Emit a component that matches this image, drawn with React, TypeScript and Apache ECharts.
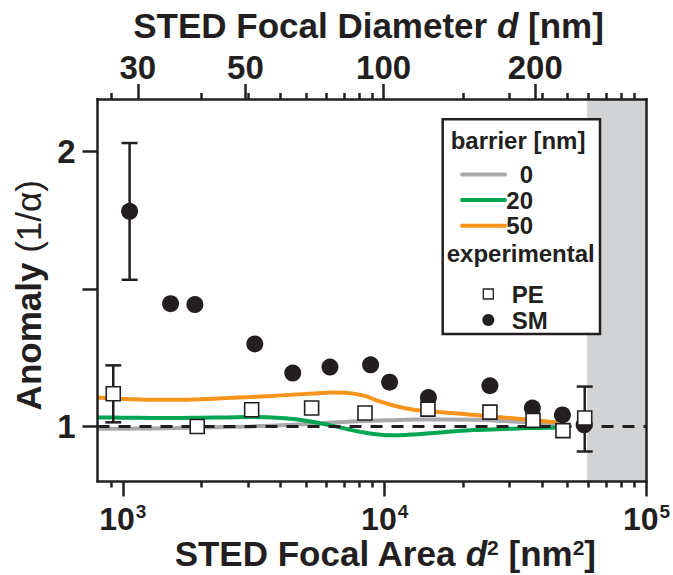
import React, { useEffect, useRef } from 'react';
import * as echarts from 'echarts';

const INK = '#231f20';
const FONT = '"Liberation Sans", Arial, Helvetica, sans-serif';

// Axis ranges
const areaRange = [800, 100000];
const anomalyRange = [0.8, 2.19];

// Bottom axis (focal area, log scale)
const areaMajorTicks = [1000, 10000, 100000];
const areaMinorTicks = [
  900, 2000, 3000, 4000, 5000, 6000, 7000, 8000, 9000,
  20000, 30000, 40000, 50000, 60000, 70000, 80000, 90000,
];

// Top axis (focal diameter) labels and where they sit on the area scale
const diameterLabels = ['30', '50', '100', '200'];
const diameterTickAreas = [1141, 2938, 9908, 37580];

// Left axis
const anomalyTicks = [1, 1.5, 2];
const anomalyLabels = [1, 2];

// Shaded region (beyond resolvable focal sizes) and free-diffusion baseline
const shadedFrom = 59300;
const baseline = 1;

// Simulated curves for different barrier sizes
const barrierNames = ['0', '20', '50'];
const barrierColors = ['#a7a9ac', '#00a651', '#f7941d'];
const curveArea = [
  800, 1000, 1276, 1600, 1982, 2500, 3080, 3700, 4376, 5358, 6200, 7223, 8321,
  9650, 10550, 12000, 12905, 14700, 17410, 22000, 27050, 31000, 36000, 41950, 45800,
];
const barrier0 = [
  0.992, 0.992, 0.993, 0.994, 0.996, 0.998, 1.0, 1.003, 1.006, 1.01, 1.014, 1.017, 1.02,
  1.022, 1.023, 1.024, 1.025, 1.025, 1.025, 1.024, 1.021, 1.018, 1.014, 1.009, 1.005,
];
const barrier20 = [
  1.033, 1.032, 1.031, 1.031, 1.032, 1.033, 1.034, 1.033, 1.028, 1.016, 1.004, 0.99, 0.978,
  0.97, 0.968, 0.969, 0.971, 0.975, 0.981, 0.987, 0.99, 0.992, 0.994, 0.995, 0.996,
];
const barrier50 = [
  1.105, 1.1, 1.097, 1.097, 1.099, 1.103, 1.107, 1.111, 1.115, 1.12, 1.123, 1.122, 1.112,
  1.09, 1.079, 1.066, 1.061, 1.056, 1.05, 1.042, 1.034, 1.03, 1.024, 1.018, 1.015,
];
const barrierCurves = [barrier0, barrier20, barrier50];

// Experimental data
const smArea = [1061, 1521, 1884, 3191, 4455, 6180, 8834, 10440, 14690, 25230, 36640, 47740, 57800];
const smAnomaly = [1.782, 1.446, 1.443, 1.3, 1.194, 1.216, 1.224, 1.161, 1.105, 1.148, 1.067, 1.042, 1.006];
const peArea = [919, 1923, 3104, 5260, 8410, 14630, 25230, 36870, 47970, 58080];
const peAnomaly = [1.119, 1.0, 1.061, 1.067, 1.049, 1.063, 1.052, 1.022, 0.985, 1.031];

// Error bars
const errArea = [1061, 919, 58080];
const errLow = [1.533, 1.015, 0.909];
const errHigh = [2.03, 1.222, 1.145];

const nearestIndex = (arr: number[], v: number) => {
  let best = 0;
  let bestD = Infinity;
  arr.forEach((a, i) => {
    const d = Math.abs(Math.log10(a) - Math.log10(v));
    if (d < bestD) {
      bestD = d;
      best = i;
    }
  });
  return best;
};

const zip = (xs: number[], ys: number[]) => xs.map((x, i) => [x, ys[i]]);

export default function App() {
  const ref = useRef<HTMLDivElement>(null);

  useEffect(() => {
    if (!ref.current) return;
    const chart = echarts.init(ref.current, null, { renderer: 'svg' });

    const axisLineStyle = { color: INK, width: 2.5 };
    const tickText = { color: INK, fontFamily: FONT, fontWeight: 'bold' as const, fontSize: 33 };
    const nameText = { ...tickText, fontSize: 35 };
    const legendFont = `bold 24px ${FONT}`;
    const LZ = 100;

    const baseX = {
      type: 'log' as const,
      logBase: 10,
      min: areaRange[0],
      max: areaRange[1],
      gridIndex: 0,
      z: 10,
      splitLine: { show: false },
      minorTick: { show: false },
    };

    // Legend placement
    const lgX = 442.7;
    const lgY = 119.3;
    const lgW = 157.3;
    const lgH = 214.7;
    const legendChildren: any[] = [
      {
        type: 'rect',
        z: LZ,
        shape: { x: lgX, y: lgY, width: lgW, height: lgH },
        style: { fill: '#fff', stroke: INK, lineWidth: 2.5 },
      },
      {
        type: 'text',
        z: LZ + 1,
        x: lgX + 8,
        y: 140,
        style: { text: 'barrier [nm]', fill: INK, font: legendFont, verticalAlign: 'middle' },
      },
    ];
    barrierNames.forEach((name, i) => {
      const y = 174.5 + 25.6 * i;
      legendChildren.push({
        type: 'line',
        z: LZ + 1,
        shape: { x1: 462, y1: y, x2: 505, y2: y },
        style: { stroke: barrierColors[i], lineWidth: 4, lineCap: 'round' },
      });
      legendChildren.push({
        type: 'text',
        z: LZ + 1,
        x: 533,
        y,
        style: { text: name, fill: INK, font: legendFont, align: 'right', verticalAlign: 'middle' },
      });
    });
    legendChildren.push({
      type: 'text',
      z: LZ + 1,
      x: lgX + 4,
      y: 253,
      style: { text: 'experimental', fill: INK, font: legendFont, verticalAlign: 'middle' },
    });
    legendChildren.push({
      type: 'rect',
      z: LZ + 1,
      shape: { x: 488.3 - 5, y: 294 - 5, width: 10, height: 10 },
      style: { fill: '#fff', stroke: INK, lineWidth: 1.3 },
    });
    legendChildren.push({
      type: 'text',
      z: LZ + 1,
      x: 511.7,
      y: 294,
      style: { text: 'PE', fill: INK, font: legendFont, verticalAlign: 'middle' },
    });
    legendChildren.push({
      type: 'circle',
      z: LZ + 1,
      shape: { cx: 488.3, cy: 320, r: 6 },
      style: { fill: INK },
    });
    legendChildren.push({
      type: 'text',
      z: LZ + 1,
      x: 511.7,
      y: 320,
      style: { text: 'SM', fill: INK, font: legendFont, verticalAlign: 'middle' },
    });

    const option: any = {
      animation: false,
      backgroundColor: '#ffffff',
      textStyle: { fontFamily: FONT, color: INK },
      grid: {
        left: 97.5,
        top: 99,
        right: 26.5,
        bottom: 93.5,
        containLabel: false,
        outerBoundsMode: 'none',
      },
      xAxis: [
        {
          ...baseX,
          position: 'bottom',
          axisLine: { show: true, onZero: false, lineStyle: axisLineStyle },
          axisTick: { show: true, inside: false, length: 15, lineStyle: axisLineStyle, customValues: areaMajorTicks },
          axisLabel: {
            show: true,
            margin: 22,
            customValues: areaMajorTicks,
            formatter: (v: number) => `{b|10}{s|${Math.round(Math.log10(v))}}`,
            rich: {
              b: { ...tickText, fontSize: 32, lineHeight: 30 },
              s: { ...tickText, fontSize: 19, lineHeight: 16, padding: [0, 0, 14, 1] },
            },
          },
          name: '{b|STED Focal Area }{i|d}{s|2}{b| [nm}{s|2}{b|]}',
          nameLocation: 'middle',
          nameGap: 57,
          nameMoveOverlap: false,
          nameTextStyle: {
            padding: [0, 0, 0, 26],
            rich: {
              b: { ...nameText, lineHeight: 30 },
              i: { ...nameText, fontStyle: 'italic', lineHeight: 30 },
              s: { ...nameText, fontSize: 21, lineHeight: 17, padding: [0, 0, 13, 0] },
            },
          },
        },
        {
          ...baseX,
          position: 'bottom',
          axisLine: { show: false, onZero: false },
          axisTick: { show: true, inside: false, length: 6, lineStyle: axisLineStyle, customValues: areaMinorTicks },
          axisLabel: { show: false },
        },
        {
          ...baseX,
          position: 'top',
          axisLine: { show: true, onZero: false, lineStyle: axisLineStyle },
          axisTick: { show: true, inside: false, length: 15, lineStyle: axisLineStyle, customValues: diameterTickAreas },
          axisLabel: {
            show: true,
            margin: 15,
            customValues: diameterTickAreas,
            formatter: (v: number) => diameterLabels[nearestIndex(diameterTickAreas, v)],
            ...tickText,
          },
          name: '{b|STED Focal Diameter }{i|d}{b| [nm]}',
          nameLocation: 'middle',
          nameGap: 56,
          nameMoveOverlap: false,
          nameTextStyle: {
            padding: [0, 7, 0, 0],
            rich: {
              b: { ...nameText },
              i: { ...nameText, fontStyle: 'italic' },
            },
          },
        },
        {
          ...baseX,
          position: 'top',
          axisLine: { show: false, onZero: false },
          axisTick: { show: true, inside: false, length: 6, lineStyle: axisLineStyle, customValues: areaMinorTicks },
          axisLabel: { show: false },
        },
      ],
      yAxis: [
        {
          type: 'value',
          min: anomalyRange[0],
          max: anomalyRange[1],
          position: 'left',
          z: 10,
          splitLine: { show: false },
          axisLine: { show: true, onZero: false, lineStyle: axisLineStyle },
          axisTick: { show: true, inside: false, length: 15, lineStyle: axisLineStyle, customValues: anomalyTicks },
          axisLabel: {
            show: true,
            margin: 22,
            customValues: anomalyLabels,
            formatter: (v: number) => String(Math.round(v)),
            ...tickText,
          },
          name: '{b|Anomaly }{n|(1/α)}',
          nameLocation: 'middle',
          nameGap: 52,
          nameMoveOverlap: false,
          nameTextStyle: {
            padding: [0, 10, 0, 0],
            rich: {
              b: { ...nameText },
              n: { ...nameText, fontWeight: 'normal' },
            },
          },
        },
        {
          type: 'value',
          min: anomalyRange[0],
          max: anomalyRange[1],
          position: 'right',
          z: 10,
          splitLine: { show: false },
          axisLine: { show: true, onZero: false, lineStyle: axisLineStyle },
          axisTick: { show: false },
          axisLabel: { show: false },
        },
      ],
      series: [
        ...barrierNames.map((name, i) => ({
          type: 'line',
          name,
          xAxisIndex: 0,
          yAxisIndex: 0,
          data: zip(curveArea, barrierCurves[i]),
          showSymbol: false,
          symbol: 'none',
          smooth: 0.3,
          z: 2,
          lineStyle: { color: barrierColors[i], width: 4 },
          silent: true,
        })),
        {
          type: 'line',
          name: 'baseline',
          xAxisIndex: 0,
          yAxisIndex: 0,
          data: [
            [areaRange[0], baseline],
            [areaRange[1], baseline],
          ],
          showSymbol: false,
          symbol: 'none',
          z: 3,
          lineStyle: { color: INK, width: 3, type: [12, 9] },
          silent: true,
          markArea: {
            silent: true,
            itemStyle: { color: '#d1d3d4' },
            data: [[{ xAxis: shadedFrom }, { xAxis: areaRange[1] }]],
          },
        },
        {
          type: 'custom',
          name: 'error',
          xAxisIndex: 0,
          yAxisIndex: 0,
          z: 4,
          data: errArea.map((a, i) => [a, errLow[i], errHigh[i]]),
          encode: { x: 0, y: [1, 2] },
          renderItem: (_params: any, api: any) => {
            const x = api.value(0);
            const lo = api.coord([x, api.value(1)]);
            const hi = api.coord([x, api.value(2)]);
            const cap = 8;
            const style = { stroke: INK, lineWidth: 2.5, fill: 'none' };
            return {
              type: 'group',
              children: [
                { type: 'line', shape: { x1: lo[0], y1: lo[1], x2: hi[0], y2: hi[1] }, style },
                { type: 'line', shape: { x1: lo[0] - cap, y1: lo[1], x2: lo[0] + cap, y2: lo[1] }, style },
                { type: 'line', shape: { x1: hi[0] - cap, y1: hi[1], x2: hi[0] + cap, y2: hi[1] }, style },
              ],
            };
          },
          silent: true,
        },
        {
          type: 'scatter',
          name: 'SM',
          xAxisIndex: 0,
          yAxisIndex: 0,
          z: 5,
          data: zip(smArea, smAnomaly),
          symbol: 'circle',
          symbolSize: 17,
          itemStyle: { color: INK, opacity: 1 },
          silent: true,
        },
        {
          type: 'scatter',
          name: 'PE',
          xAxisIndex: 0,
          yAxisIndex: 0,
          z: 6,
          data: zip(peArea, peAnomaly),
          symbol: 'rect',
          symbolSize: 14,
          itemStyle: { color: '#ffffff', borderColor: INK, borderWidth: 1.6, opacity: 1 },
          silent: true,
        },
      ],
      graphic: [
        {
          type: 'group',
          z: LZ,
          children: legendChildren,
        },
      ],
    };

    chart.setOption(option);
    return () => chart.dispose();
  }, []);

  return (
    <div
      ref={ref}
      style={{ position: 'fixed', left: 0, top: 0, width: 673, height: 575, background: '#fff' }}
    />
  );
}
